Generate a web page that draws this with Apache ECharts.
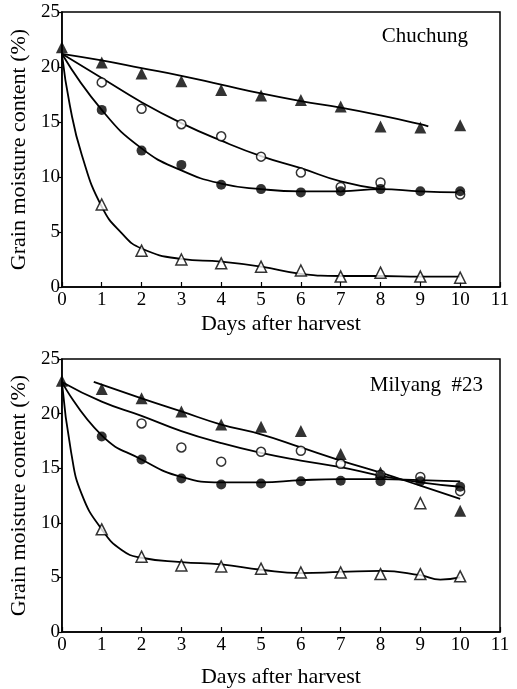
<!DOCTYPE html>
<html lang="en">
<head>
<meta charset="UTF-8">
<title>Grain moisture content</title>
<script src="https://cdn.jsdelivr.net/npm/echarts@6/dist/echarts.min.js"></script>
<style>
    html, body { margin: 0; padding: 0; background: #fff; }
    #chart { width: 517px; height: 689px; }
</style>
</head>
<body>

<div id="chart"></div>

<script>
// ---- data ----
var days = [0, 1, 2, 3, 4, 5, 6, 7, 8, 9, 10];
var xTicks = [0, 1, 2, 3, 4, 5, 6, 7, 8, 9, 10, 11];
var yTicks = [0, 5, 10, 15, 20, 25];

// Chuchung - measured points
var chFilledTri  = [21.8, 20.4, 19.4, 18.7, 17.9, 17.4, 17.0, 16.4, 14.6, 14.5, 14.7];
var chOpenCirc   = [null, 18.6, 16.2, 14.8, 13.7, 11.85, 10.4, 9.1, 9.5, null, 8.4];
var chFilledCirc = [null, 16.1, 12.4, 11.1, 9.3, 8.9, 8.6, 8.7, 8.9, 8.7, 8.7];
var chOpenTri    = [null, 7.5, 3.3, 2.5, 2.15, 1.85, 1.5, 0.95, 1.3, 0.95, 0.85];

// Chuchung - fitted curves
var chFitTriX  = [0, 1, 2, 3, 4, 5, 6, 7, 8, 9, 9.2];
var chFitTriY  = [21.2, 20.6, 19.9, 19.2, 18.4, 17.6, 16.9, 16.3, 15.6, 14.8, 14.6];
var chFitOcX   = [0, 1, 2, 3, 4, 5, 6, 7, 8];
var chFitOcY   = [21.2, 19.0, 16.8, 14.9, 13.3, 11.9, 10.8, 9.6, 8.9];
var chFitFcX   = [0, 1, 2, 3, 4, 5, 6, 7, 8, 9, 10];
var chFitFcY   = [21.2, 16.1, 12.6, 10.6, 9.4, 8.9, 8.7, 8.7, 8.9, 8.7, 8.6];
var chFitOtX   = [0, 0.2, 0.5, 1, 1.5, 2, 3, 4, 5, 6, 7, 8, 9, 10];
var chFitOtY   = [21.2, 16.5, 12.0, 7.3, 4.9, 3.5, 2.55, 2.3, 1.85, 1.2, 1.0, 1.0, 0.95, 0.95];

// Milyang #23 - measured points
var myFilledTri  = [23.0, 22.25, 21.4, 20.2, 19.0, 18.8, 18.4, 16.3, 14.6, null, 11.1];
var myOpenCirc   = [null, null, 19.1, 16.9, 15.6, 16.5, 16.6, 15.4, 14.4, 14.2, 12.9];
var myFilledCirc = [null, 17.9, 15.8, 14.05, 13.5, 13.6, 13.8, 13.85, 13.8, 13.8, 13.3];
var myOpenTri    = [null, 9.4, 6.9, 6.1, 6.0, 5.8, 5.45, 5.45, 5.3, 5.3, 5.1];
var myOpenTriExtraX = [9];
var myOpenTriExtraY = [11.8];

// Milyang #23 - fitted curves
var myFitTriX  = [0.8, 2, 3, 4, 5, 6, 7, 8, 9, 10];
var myFitTriY  = [22.9, 21.4, 20.2, 19.0, 18.1, 16.9, 15.7, 14.6, 13.4, 12.2];
var myFitOcX   = [0, 1, 2, 3, 4, 5, 6, 7, 8, 9, 10];
var myFitOcY   = [22.9, 21.1, 19.8, 18.4, 17.3, 16.4, 15.7, 15.1, 14.3, 13.7, 13.3];
var myFitFcX   = [0, 1, 2, 3, 4, 5, 6, 7, 8, 9, 10];
var myFitFcY   = [22.9, 18.0, 15.8, 14.2, 13.7, 13.7, 13.9, 14.0, 14.0, 13.9, 13.8];
var myFitOtX   = [0, 0.23, 0.5, 1, 1.5, 2, 3, 4, 5, 6, 7, 8, 9, 9.5, 10];
var myFitOtY   = [22.9, 16.5, 12.6, 9.4, 7.5, 6.8, 6.4, 6.2, 5.7, 5.4, 5.5, 5.6, 5.2, 4.8, 5.0];

// ---- helpers ----
function pairs(xs, ys) {
    var out = [];
    for (var i = 0; i < xs.length; i++) {
        if (ys[i] !== null) out.push([xs[i], ys[i]]);
    }
    return out;
}

var FONT = 'Liberation Serif';

function fitLine(idx, xs, ys) {
    return {
        type: 'line', xAxisIndex: idx, yAxisIndex: idx,
        data: pairs(xs, ys), smooth: 0.5,
        showSymbol: false, silent: true, z: 2,
        lineStyle: { color: '#000', width: 1.8 }
    };
}

function marks(idx, ys, shape, filled, size, xs) {
    return {
        type: 'scatter', xAxisIndex: idx, yAxisIndex: idx,
        data: pairs(xs || days, ys), symbol: shape, symbolSize: size, z: 3,
        itemStyle: filled
            ? { color: '#000' }
            : { color: '#fff', borderColor: '#000', borderWidth: 1.5 }
    };
}

function xAxisFor(idx, gap) {
    return {
        type: 'value', gridIndex: idx, min: 0, max: 11, interval: 1,
        name: 'Days after harvest', nameLocation: 'middle', nameGap: gap,
        nameTextStyle: { fontFamily: FONT, fontSize: 22, color: '#000' },
        axisLine: { lineStyle: { color: '#000', width: 1.5 } },
        axisTick: { inside: true, length: 5, lineStyle: { color: '#000', width: 1.2 } },
        axisLabel: { fontFamily: FONT, fontSize: 19, color: '#000', margin: 4,
            formatter: function (v) { return xTicks.indexOf(v) >= 0 ? String(v) : ''; } },
        splitLine: { show: false }
    };
}

function yAxisFor(idx) {
    return {
        type: 'value', gridIndex: idx, min: 0, max: 25, interval: 5,
        name: 'Grain moisture content (%)', nameLocation: 'middle', nameGap: 27,
        nameTextStyle: { fontFamily: FONT, fontSize: 22, color: '#000' },
        axisLine: { show: true, lineStyle: { color: '#000', width: 1.5 } },
        axisTick: { show: true, length: 4, lineStyle: { color: '#000', width: 1.2 } },
        axisLabel: { fontFamily: FONT, fontSize: 19, color: '#000', margin: 2,
            formatter: function (v) { return yTicks.indexOf(v) >= 0 ? String(v) : ''; } },
        splitLine: { show: false }
    };
}

var chartDom = document.getElementById('chart');
var myChart = echarts.init(chartDom, null, { renderer: 'canvas' });

var option = {
    backgroundColor: '#fff',
    animation: false,
    title: [
        { text: 'Chuchung', right: 44, top: 21,
          textStyle: { fontFamily: FONT, fontSize: 21, fontWeight: 'normal', color: '#000' } },
        { text: 'Milyang  #23', right: 29, top: 370,
          textStyle: { fontFamily: FONT, fontSize: 21, fontWeight: 'normal', color: '#000' } }
    ],
    grid: [
        { left: 60, right: 17, top: 12, height: 275, show: true,
          borderColor: '#000', borderWidth: 1.5, backgroundColor: 'transparent' },
        { left: 59, right: 17, top: 359, height: 278, show: true,
          borderColor: '#000', borderWidth: 1.5, backgroundColor: 'transparent' }
    ],
    xAxis: [xAxisFor(0, 26), xAxisFor(1, 34)],
    yAxis: [yAxisFor(0), yAxisFor(1)],
    series: [
        fitLine(0, chFitTriX, chFitTriY),
        fitLine(0, chFitOcX, chFitOcY),
        fitLine(0, chFitFcX, chFitFcY),
        fitLine(0, chFitOtX, chFitOtY),
        marks(0, chOpenCirc, 'circle', false, 9),
        marks(0, chFilledCirc, 'circle', true, 10),
        marks(0, chOpenTri, 'triangle', false, 11),
        marks(0, chFilledTri, 'triangle', true, 12),

        fitLine(1, myFitTriX, myFitTriY),
        fitLine(1, myFitOcX, myFitOcY),
        fitLine(1, myFitFcX, myFitFcY),
        fitLine(1, myFitOtX, myFitOtY),
        marks(1, myOpenCirc, 'circle', false, 9),
        marks(1, myFilledCirc, 'circle', true, 10),
        marks(1, myOpenTri, 'triangle', false, 11),
        marks(1, myOpenTriExtraY, 'triangle', false, 11, myOpenTriExtraX),
        marks(1, myFilledTri, 'triangle', true, 12)
    ]
};

myChart.setOption(option);
</script>

</body>
</html>
